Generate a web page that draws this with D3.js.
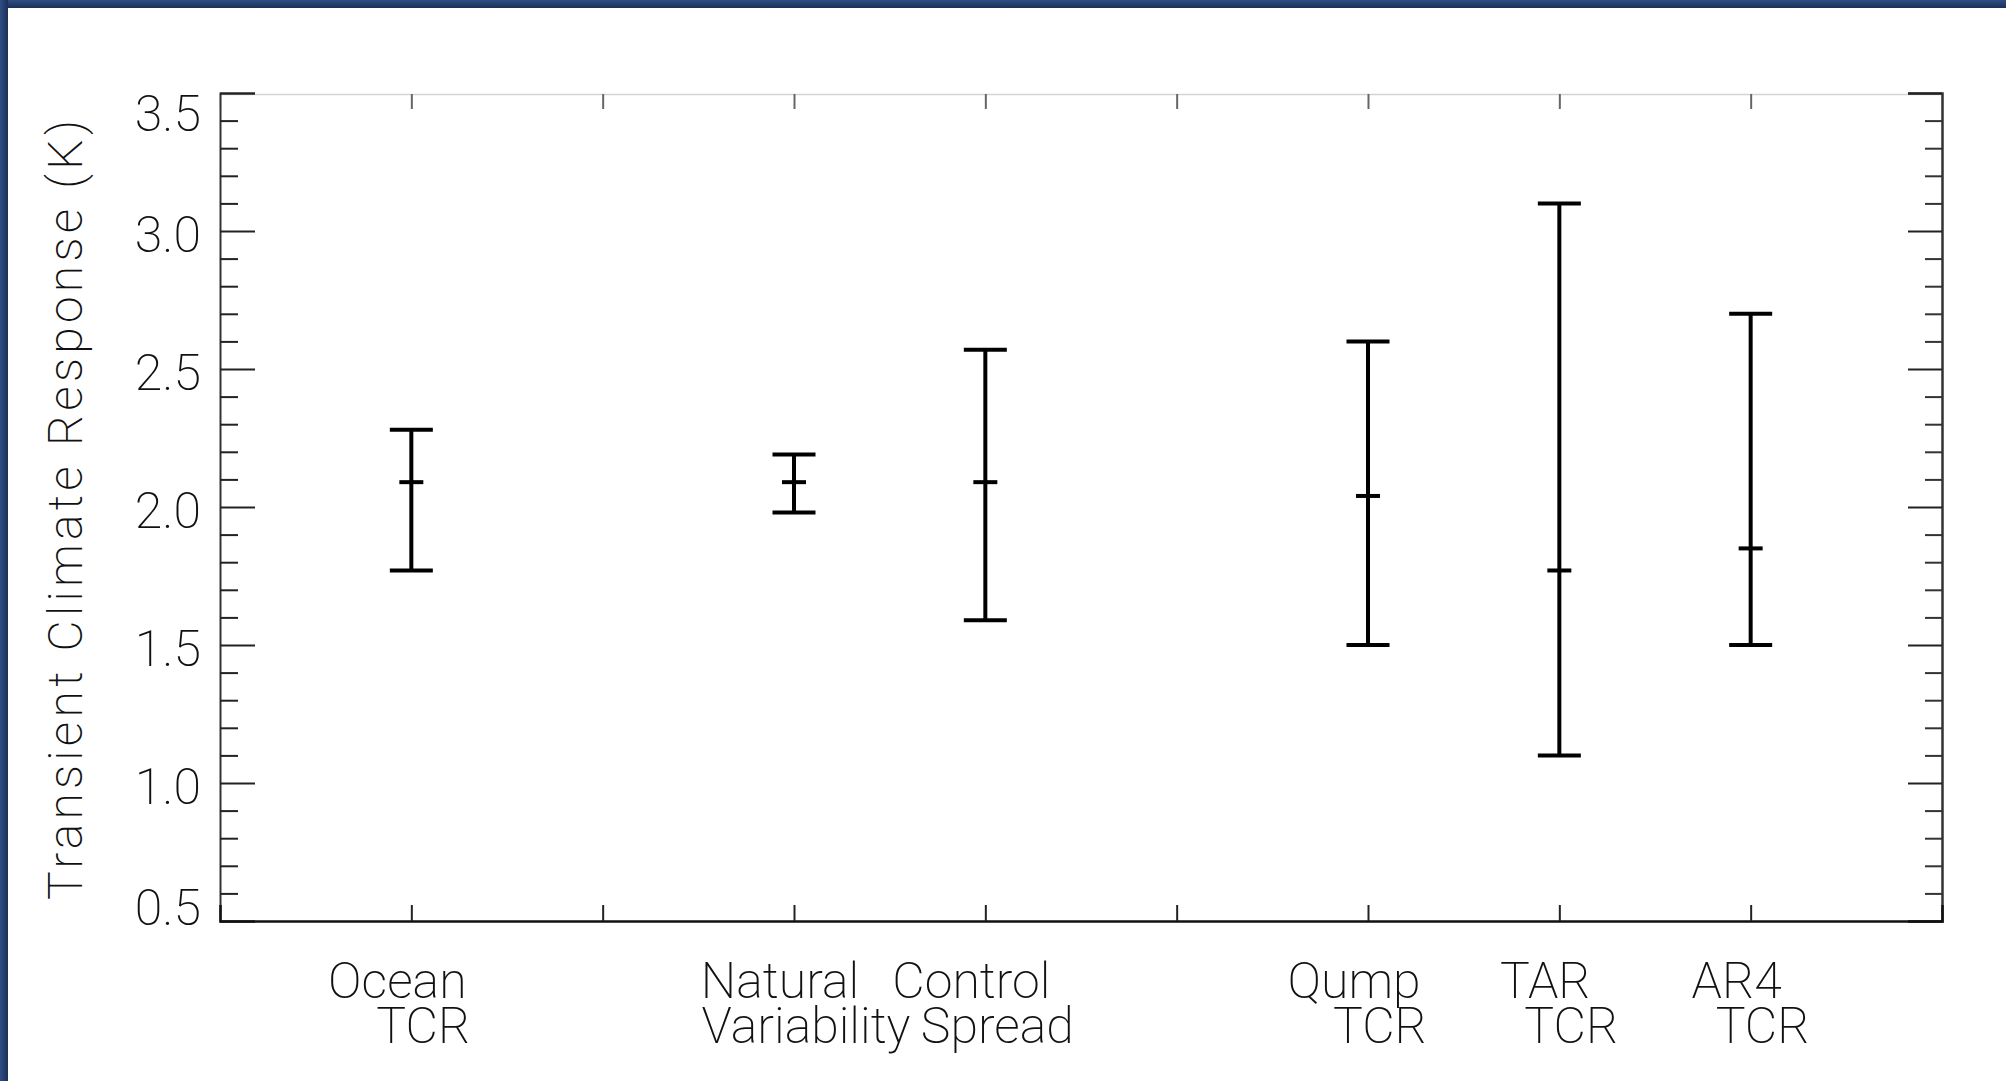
<!DOCTYPE html>
<html>
<head>
<meta charset="utf-8">
<script src="https://cdn.jsdelivr.net/npm/d3@7"></script>
<style>
  html, body { margin: 0; padding: 0; background: #fff; }
  svg { display: block; }
  text { font-family: Roboto, "DejaVu Sans", sans-serif; font-weight: 200; fill: #111; }
</style>
</head>
<body>
<script>
// ---- data ----
const categoryLine1 = ["Ocean", "Natural", "Control", "Qump", "TAR", "AR4"];
const categoryLine2 = ["TCR", "Variability", "Spread", "TCR", "TCR", "TCR"];
const categoryPos   = [1, 3, 4, 6, 7, 8];
const lowValues     = [1.77, 1.98, 1.59, 1.50, 1.10, 1.50];
const midValues     = [2.09, 2.09, 2.09, 2.04, 1.77, 1.85];
const highValues    = [2.28, 2.19, 2.57, 2.60, 3.10, 2.70];
const yTickValues   = [0.5, 1.0, 1.5, 2.0, 2.5, 3.0, 3.5];
const yTickLabels   = ["0.5", "1.0", "1.5", "2.0", "2.5", "3.0", "3.5"];
const xTickValues   = [1, 2, 3, 4, 5, 6, 7, 8];
const yTitle = "Transient Climate Response (K)";

const W = 2006, H = 1081;
const svg = d3.select("body").append("svg").attr("width", W).attr("height", H);

// frame (blue border top & left)
const defs = svg.append("defs");
const gTop = defs.append("linearGradient").attr("id", "gTop").attr("x1", 0).attr("y1", 0).attr("x2", 0).attr("y2", 1);
gTop.append("stop").attr("offset", "0%").attr("stop-color", "#2f4d84");
gTop.append("stop").attr("offset", "100%").attr("stop-color", "#1c2f58");
const gLeft = defs.append("linearGradient").attr("id", "gLeft").attr("x1", 0).attr("y1", 0).attr("x2", 1).attr("y2", 0);
gLeft.append("stop").attr("offset", "0%").attr("stop-color", "#2f4d84");
gLeft.append("stop").attr("offset", "100%").attr("stop-color", "#1c2f58");
svg.append("rect").attr("x", 0).attr("y", 0).attr("width", W).attr("height", 8).attr("fill", "url(#gTop)");
svg.append("rect").attr("x", 0).attr("y", 0).attr("width", 8).attr("height", H).attr("fill", "url(#gLeft)");

// scales
const x = d3.scaleLinear().domain([0, 9]).range([220, 1942]);
const y = d3.scaleLinear().domain([0.5, 3.5]).range([921, 93]);
const minorY = d3.range(5, 36).map(v => v / 10).filter(v => Math.abs(v * 2 - Math.round(v * 2)) > 1e-6);

// top axis (light)
const topAx = svg.append("g").attr("transform", `translate(0,${y(3.5) + 1})`)
  .call(d3.axisTop(x).tickValues(xTickValues).tickSize(-15).tickFormat(""));
topAx.select(".domain").attr("stroke", "#d4d4d4").attr("stroke-width", 1.5);
topAx.selectAll(".tick line").attr("stroke", "#666").attr("stroke-width", 2);

// left axis
const leftAx = svg.append("g").attr("transform", `translate(220,0)`)
  .call(d3.axisLeft(y).tickValues(yTickValues).tickSize(-35).tickPadding(19)
    .tickFormat((d, i) => yTickLabels[i]));
leftAx.attr("font-family", null).attr("font-size", null);
leftAx.select(".domain").attr("stroke", "#333").attr("stroke-width", 2);
leftAx.selectAll(".tick line").attr("stroke", "#222").attr("stroke-width", 2);
// end labels kept inside the axis range (as in the original)
const ext = d3.extent(yTickValues);
leftAx.selectAll(".tick text").attr("font-size", 50).attr("fill", "#111")
  .attr("dy", d => d === ext[1] ? 37.5 : d === ext[0] ? 3 : 20);
const leftMinor = svg.append("g").attr("transform", `translate(220,0)`)
  .call(d3.axisLeft(y).tickValues(minorY).tickSize(-18).tickFormat(""));
leftMinor.select(".domain").remove();
leftMinor.selectAll(".tick line").attr("stroke", "#222").attr("stroke-width", 2);

// right axis
const rightAx = svg.append("g").attr("transform", `translate(1942,0)`)
  .call(d3.axisRight(y).tickValues(yTickValues).tickSize(-34).tickFormat(""));
rightAx.select(".domain").attr("stroke", "#333").attr("stroke-width", 2.5);
rightAx.selectAll(".tick line").attr("stroke", "#222").attr("stroke-width", 2);
const rightMinor = svg.append("g").attr("transform", `translate(1942,0)`)
  .call(d3.axisRight(y).tickValues(minorY).tickSize(-17).tickFormat(""));
rightMinor.select(".domain").remove();
rightMinor.selectAll(".tick line").attr("stroke", "#333").attr("stroke-width", 2);

// bottom axis
const botAx = svg.append("g").attr("transform", `translate(0,921)`)
  .call(d3.axisBottom(x).tickValues(xTickValues).tickSize(-16).tickFormat(""));
botAx.select(".domain").attr("stroke", "#111").attr("stroke-width", 2.5);
botAx.selectAll(".tick line").attr("stroke", "#222").attr("stroke-width", 2);

// category labels (two lines each)
const labels = svg.append("g").attr("font-size", 50);
const lab = labels.selectAll("text").data(categoryPos).join("text").attr("text-anchor", "middle");
lab.append("tspan").attr("x", d => x(d) - 14).attr("y", 998).text((d, i) => categoryLine1[i]);
lab.append("tspan").attr("x", d => x(d) + 12).attr("y", 1043).text((d, i) => categoryLine2[i]);

// y title
svg.append("text")
  .attr("transform", `translate(82,510) rotate(-90)`)
  .attr("text-anchor", "middle").attr("font-size", 48)
  .attr("textLength", 780).attr("lengthAdjust", "spacing")
  .text(yTitle);

// error bars
const bars = svg.append("g").attr("stroke", "#000").attr("stroke-width", 4).attr("fill", "none");
const idx = d3.range(categoryPos.length);
bars.selectAll("line.v").data(idx).join("line").attr("class", "v")
  .attr("x1", i => x(categoryPos[i])).attr("x2", i => x(categoryPos[i]))
  .attr("y1", i => y(highValues[i])).attr("y2", i => y(lowValues[i]));
bars.selectAll("line.hi").data(idx).join("line").attr("class", "hi")
  .attr("x1", i => x(categoryPos[i]) - 21.5).attr("x2", i => x(categoryPos[i]) + 21.5)
  .attr("y1", i => y(highValues[i])).attr("y2", i => y(highValues[i]));
bars.selectAll("line.lo").data(idx).join("line").attr("class", "lo")
  .attr("x1", i => x(categoryPos[i]) - 21.5).attr("x2", i => x(categoryPos[i]) + 21.5)
  .attr("y1", i => y(lowValues[i])).attr("y2", i => y(lowValues[i]));
bars.selectAll("line.mid").data(idx).join("line").attr("class", "mid")
  .attr("x1", i => x(categoryPos[i]) - 12).attr("x2", i => x(categoryPos[i]) + 12)
  .attr("y1", i => y(midValues[i])).attr("y2", i => y(midValues[i]));
</script>
</body>
</html>
